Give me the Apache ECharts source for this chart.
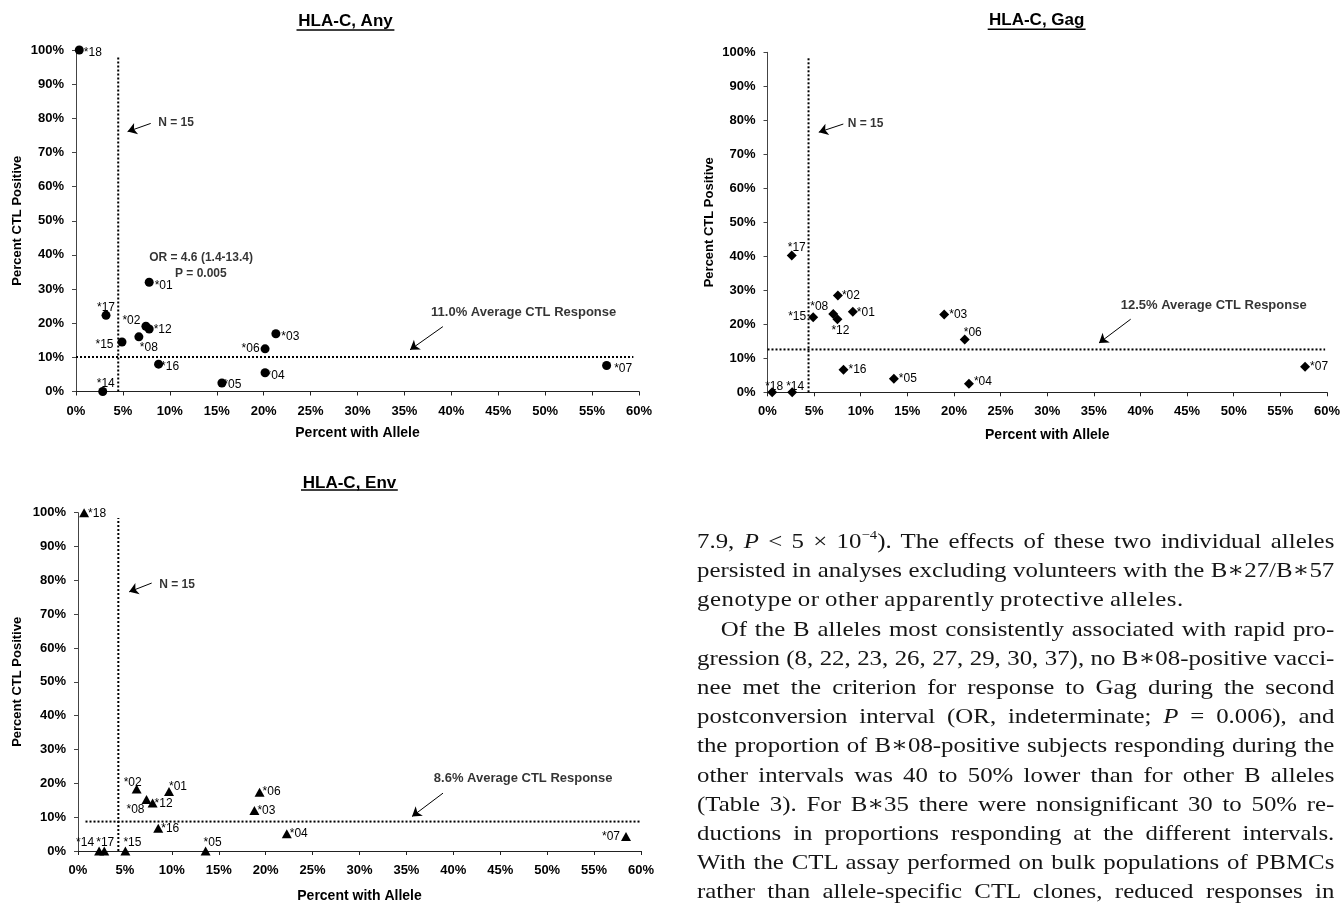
<!DOCTYPE html>
<html>
<head>
<meta charset="utf-8">
<script src="https://cdn.jsdelivr.net/npm/echarts@6/dist/echarts.min.js"></script>
<style>
  html, body { margin: 0; padding: 0; background: #fff; overflow: hidden; }
  #chart { position: absolute; left: 0; top: 0; width: 1343px; height: 904px; }
  #para { position: absolute; left: 697px; top: 526px; width: 564px;
          transform: scaleX(1.13); transform-origin: 0 0;
          font-family: 'Liberation Serif', 'DejaVu Serif', serif; font-size: 22px;
          line-height: 29.2px; color: #151515; word-spacing: -1px; }
  #para .j { text-align: justify; text-align-last: justify; white-space: nowrap; }
  #para .l { text-align: left; white-space: nowrap; letter-spacing: 0.45px; }
  #para .ind { padding-left: 21px; }
  #para sup { font-size: 13px; line-height: 0; vertical-align: 9px; }
  #para .st { font-family: 'Liberation Serif', serif; }
</style>
</head>
<body>
<div id="chart"></div>
<div id="para">
  <div class="j">7.9, <i>P</i> &lt; 5 × 10<sup>−4</sup>). The effects of these two individual alleles</div>
  <div class="j">persisted in analyses excluding volunteers with the B∗27/B∗57</div>
  <div class="l">genotype or other apparently protective alleles.</div>
  <div class="j ind">Of the B alleles most consistently associated with rapid pro-</div>
  <div class="j">gression (8, 22, 23, 26, 27, 29, 30, 37), no B∗08-positive vacci-</div>
  <div class="j">nee met the criterion for response to Gag during the second</div>
  <div class="j">postconversion interval (OR, indeterminate; <i>P</i> = 0.006), and</div>
  <div class="j">the proportion of B∗08-positive subjects responding during the</div>
  <div class="j">other intervals was 40 to 50% lower than for other B alleles</div>
  <div class="j">(Table 3). For B∗35 there were nonsignificant 30 to 50% re-</div>
  <div class="j">ductions in proportions responding at the different intervals.</div>
  <div class="j">With the CTL assay performed on bulk populations of PBMCs</div>
  <div class="j">rather than allele-specific CTL clones, reduced responses in</div>
</div>
<script>
// ---------------- DATA ----------------
const titles = ['HLA-C, Any', 'HLA-C, Gag', 'HLA-C, Env'];
const xTitle = 'Percent with Allele';
const yTitle = 'Percent CTL Positive';

const alleleAny = ['*18','*01','*17','*02','*12','*08','*15','*16','*14','*05','*04','*06','*03','*07'];
const freqAny   = [0.35, 7.8, 3.2, 7.45, 7.8, 6.7, 4.9, 8.8, 2.85, 15.55, 20.15, 20.15, 21.3, 56.55];
const ctlAny    = [100, 32.0, 22.3, 19.1, 18.3, 16.0, 14.5, 8.0, 0, 2.5, 5.5, 12.5, 16.9, 7.6];

const alleleGag = ['*17','*02','*08','*12','*01','*15','*03','*06','*16','*05','*04','*18','*14','*07'];
const freqGag   = [2.6, 7.55, 7.05, 7.5, 9.15, 4.9, 18.95, 21.15, 8.15, 13.55, 21.6, 0.5, 2.65, 57.65];
const ctlGag    = [40.2, 28.5, 23.0, 21.5, 23.7, 22.1, 22.9, 15.5, 6.6, 4.0, 2.5, 0, 0, 7.5];

const alleleEnv = ['*18','*02','*01','*08','*12','*16','*06','*03','*04','*14','*17','*15','*05','*07'];
const freqEnv   = [0.65, 6.25, 9.7, 7.3, 7.95, 8.55, 19.35, 18.8, 22.25, 2.25, 2.8, 5.05, 13.6, 58.4];
const ctlEnv    = [100, 18.3, 17.6, 15.2, 14.2, 6.7, 17.4, 12.0, 5.1, 0, 0, 0, 0, 4.3];

// reference lines: N = 15 threshold (x) and average CTL response (y)
const nLineX   = [4.5, 4.4, 4.3];
const nLineTop = [98, 98.7, 98.4];
const avgLineY = [10.1, 12.6, 8.7];
const avgLineFrom = [0, 0, 0.8];
const avgLineTo   = [59.4, 59.8, 60];

// annotation texts and their anchor values
const annotText = [
  ['N = 15', 'OR = 4.6 (1.4-13.4)', 'P = 0.005', '11.0% Average CTL Response'],
  ['N = 15', '12.5% Average CTL Response'],
  ['N = 15', '8.6% Average CTL Response']
];
const annotX = [[8.76, 7.8, 10.55, 37.84], [8.6, 37.88], [8.66, 37.92]];
const annotY = [[78.7, 39.1, 34.6, 23.1], [79.1, 25.5], [78.8, 21.5]];

// arrows: [fromX, fromY, toX, toY]
const arrowsN   = [[7.96, 78.5, 5.5, 76.1], [8.13, 78.9, 5.5, 76.5], [7.85, 79.2, 5.45, 76.6]];
const arrowsAvg = [[39.1, 19.0, 35.6, 12.2], [38.95, 21.5, 35.55, 14.5], [38.9, 17.1, 35.6, 10.2]];

const xTicks = { min: 0, max: 60, interval: 5 };
const yTicks = { min: 0, max: 100, interval: 10 };

// ---------------- STYLE / LAYOUT ----------------
const grids = [
  { left: 76, top: 50, width: 563, height: 341.5 },
  { left: 767.5, top: 52.3, width: 561.8, height: 340 },
  { left: 78, top: 512.7, width: 563, height: 342 }
];
const symbols = ['circle', 'diamond', 'triangle'];
const symbolSizes = [9, 10, [10, 9]];
const yNameGap = [52, 52, 54];
const xNameGap = [35, 36, 38];
const titlePos = [[345.5, 21.7, 296.5, 394.4, 30], [1036.7, 20.7, 987.7, 1085.6, 29.3], [349.5, 483.3, 301, 397.8, 490]];

const labelCfg = [
  { '*18': ['right', 0, [0, 3]], '*01': ['right', 1, [0, 3]], '*17': ['top', 0, [0, 3]],
    '*02': ['left', 1, [0, -6]], '*12': ['right', 0, [0, 1]], '*08': ['bottom', 0, [10, 0]],
    '*15': ['left', 4, [0, 3]], '*16': ['right', 0, [-2, 3]], '*14': ['top', 0, [3, 3]],
    '*05': ['right', 0, [-3, 2]], '*04': ['right', 0, [-3, 3]], '*06': ['left', 1, [0, 0]],
    '*03': ['right', 1, [0, 3]], '*07': ['right', 3, [0, 3]] },
  { '*17': ['top', 0, [5, 3]], '*02': ['right', 0, [-1, 0]], '*08': ['left', 0, [0, -7]],
    '*15': ['left', 2, [0, 0]], '*12': ['bottom', 0, [3, 0]], '*01': ['right', 0, [-1, 1]],
    '*03': ['right', 0, [0, 0]], '*06': ['top', 0, [8, 4]], '*16': ['right', 0, [0, 0]],
    '*05': ['right', 0, [0, 0]], '*04': ['right', 0, [0, -2]], '*18': ['top', 0, [2, 5]],
    '*14': ['top', 0, [3, 5]], '*07': ['right', 0, [0, 0]] },
  { '*18': ['right', 0, [-1, 1]], '*02': ['top', 0, [-4, 4]], '*01': ['right', 0, [-5, -5]],
    '*08': ['bottom', 0, [-11, 0]], '*12': ['right', 0, [-3, 1]], '*16': ['right', 0, [-2, 0]],
    '*06': ['right', 0, [-2, 0]], '*03': ['right', 0, [-2, 0]], '*04': ['right', 0, [-2, 0]],
    '*14': ['left', 0, [0, -8]], '*17': ['top', 0, [1, 2]], '*15': ['right', 0, [-7, -8]],
    '*05': ['right', 0, [-7, -8]], '*07': ['left', 1, [0, 0]] }
];

const FONT = "'Liberation Sans', Arial, Helvetica, sans-serif";
const INK = '#000';

const datasets = [
  [alleleAny, freqAny, ctlAny],
  [alleleGag, freqGag, ctlGag],
  [alleleEnv, freqEnv, ctlEnv]
];

const xAxes = [], yAxes = [], series = [], graphics = [];

grids.forEach((g, i) => {
  xAxes.push({
    type: 'value', gridIndex: i, min: xTicks.min, max: xTicks.max, interval: xTicks.interval,
    name: xTitle, nameLocation: 'middle', nameGap: xNameGap[i],
    nameTextStyle: { fontFamily: FONT, fontWeight: 'bold', fontSize: 14, color: INK },
    axisLine: { show: true, onZero: false, lineStyle: { color: '#222', width: 1 } },
    axisTick: { show: true, inside: false, length: 4, lineStyle: { color: '#222' } },
    axisLabel: { formatter: '{value}%', margin: 13, fontFamily: FONT, fontWeight: 'bold', fontSize: 13, color: INK },
    splitLine: { show: false }
  });
  yAxes.push({
    type: 'value', gridIndex: i, min: yTicks.min, max: yTicks.max, interval: yTicks.interval,
    name: yTitle, nameLocation: 'middle', nameGap: yNameGap[i],
    nameTextStyle: { fontFamily: FONT, fontWeight: 'bold', fontSize: 13, color: INK },
    axisLine: { show: true, onZero: false, lineStyle: { color: '#444', width: 1 } },
    axisTick: { show: true, inside: false, length: 4, lineStyle: { color: '#444' } },
    axisLabel: { formatter: '{value}%', margin: 12, fontFamily: FONT, fontWeight: 'bold', fontSize: 13, color: INK },
    splitLine: { show: false }
  });

  const dotted = { color: '#000', width: 2, type: [2, 2] };
  // vertical N = 15 line
  series.push({
    type: 'line', xAxisIndex: i, yAxisIndex: i, silent: true, symbol: 'none',
    lineStyle: dotted, data: [[nLineX[i], 0], [nLineX[i], nLineTop[i]]], z: 1
  });
  // horizontal average line, carrying the arrows as mark lines
  const arr = [arrowsN[i], arrowsAvg[i]];
  series.push({
    type: 'line', xAxisIndex: i, yAxisIndex: i, silent: true, symbol: 'none',
    lineStyle: dotted, data: [[avgLineFrom[i], avgLineY[i]], [avgLineTo[i], avgLineY[i]]], z: 1,
    markLine: {
      silent: true, animation: false, symbol: ['none', 'arrow'], symbolSize: 9,
      label: { show: false },
      lineStyle: { color: '#000', width: 1, type: 'solid', opacity: 1 },
      itemStyle: { color: '#000' },
      emphasis: { disabled: true },
      data: arr.map(a => [{ coord: [a[0], a[1]] }, { coord: [a[2], a[3]] }])
    }
  });
  // annotation texts
  series.push({
    type: 'scatter', xAxisIndex: i, yAxisIndex: i, silent: true, symbolSize: 0,
    data: annotText[i].map((t, k) => ({ value: [annotX[i][k], annotY[i][k]], name: t,
      label: { fontSize: t.indexOf('Average') >= 0 ? 13 : 12 } })),
    label: { show: true, position: 'right', distance: 0, formatter: p => p.name,
      fontFamily: FONT, fontWeight: 'bold', color: INK },
    z: 3
  });
  // points
  const [names, xs, ys] = datasets[i];
  series.push({
    type: 'scatter', xAxisIndex: i, yAxisIndex: i, silent: true,
    symbol: symbols[i], symbolSize: symbolSizes[i],
    itemStyle: { color: '#000', opacity: 1 },
    data: names.map((n, k) => {
      const c = labelCfg[i][n];
      return { value: [xs[k], ys[k]], name: n,
        label: { position: c[0], distance: c[1], offset: c[2] } };
    }),
    label: { show: true, formatter: p => p.name, fontFamily: FONT, fontSize: 12, color: INK },
    z: 4
  });

  const tp = titlePos[i];
  graphics.push({
    type: 'text', x: tp[0], y: tp[1], silent: true,
    style: { text: titles[i], fontFamily: FONT, fontWeight: 'bold', fontSize: 17, fill: INK,
      align: 'center', verticalAlign: 'middle' }
  });
  graphics.push({
    type: 'line', silent: true,
    shape: { x1: tp[2], y1: tp[4], x2: tp[3], y2: tp[4] },
    style: { stroke: INK, lineWidth: 1.5 }
  });
});

const chart = echarts.init(document.getElementById('chart'), null, { renderer: 'canvas' });
chart.setOption({
  animation: false,
  backgroundColor: '#fff',
  grid: grids,
  xAxis: xAxes,
  yAxis: yAxes,
  series: series,
  graphic: graphics
});
</script>
</body>
</html>
